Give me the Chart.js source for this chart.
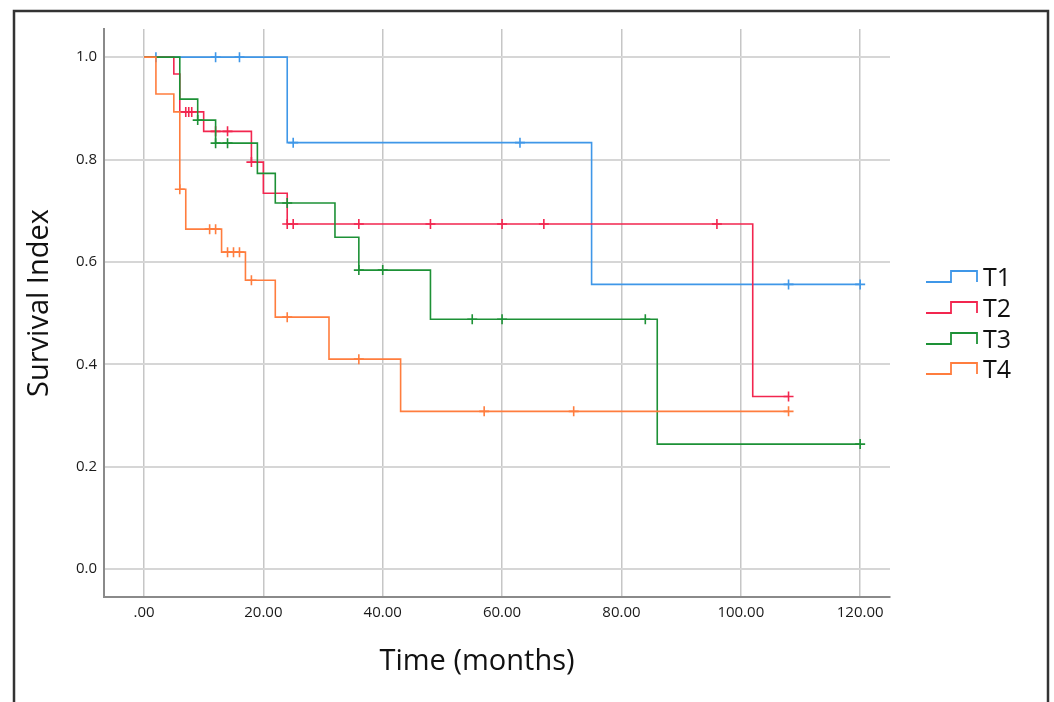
<!DOCTYPE html>
<html>
<head>
<meta charset="utf-8">
<script src="https://cdn.jsdelivr.net/npm/chart.js@4/dist/chart.umd.min.js"></script>
<style>
  html, body { margin: 0; padding: 0; background: #fff; }
  #wrap { position: relative; width: 1054px; height: 702px; }
</style>
</head>
<body>
<div id="wrap"><canvas id="km" width="1054" height="702"></canvas></div>
<script>
// Kaplan-Meier steps (time in months, survival index)
const groupNames = ["T1", "T2", "T3", "T4"];
const groupColors = ["#3f97e8", "#f2264f", "#1d9136", "#ff7d3e"];

const t1Times = [0, 24, 75, 120];
const t1Surv  = [1.0, 0.833, 0.556, 0.556];
const t1CensorTimes = [2, 12, 16, 25, 63, 108, 120];
const t1CensorSurv  = [1.0, 1.0, 1.0, 0.833, 0.833, 0.556, 0.556];

const t2Times = [0, 5, 6, 10, 18, 20, 24, 102, 108];
const t2Surv  = [1.0, 0.967, 0.893, 0.855, 0.795, 0.734, 0.674, 0.337, 0.337];
const t2CensorTimes = [7, 7.5, 8, 12, 14, 18, 24, 25, 36, 48, 60, 67, 96, 108];
const t2CensorSurv  = [0.893, 0.893, 0.893, 0.855, 0.855, 0.795, 0.674, 0.674, 0.674, 0.674, 0.674, 0.674, 0.674, 0.337];

const t3Times = [0, 6, 9, 12, 19, 22, 32, 36, 48, 86, 120];
const t3Surv  = [1.0, 0.918, 0.877, 0.832, 0.773, 0.715, 0.648, 0.584, 0.488, 0.244, 0.244];
const t3CensorTimes = [9, 12, 14, 24, 36, 40, 55, 60, 84, 120];
const t3CensorSurv  = [0.877, 0.832, 0.832, 0.715, 0.584, 0.584, 0.488, 0.488, 0.488, 0.244];

const t4Times = [0, 2, 5, 6, 7, 13, 17, 22, 31, 43, 108];
const t4Surv  = [1.0, 0.928, 0.893, 0.742, 0.664, 0.619, 0.564, 0.492, 0.410, 0.308, 0.308];
const t4CensorTimes = [6, 11, 12, 14, 15, 16, 18, 24, 36, 57, 72, 108];
const t4CensorSurv  = [0.742, 0.664, 0.664, 0.619, 0.619, 0.619, 0.564, 0.492, 0.410, 0.308, 0.308, 0.308];

const xTickValues = [0, 20, 40, 60, 80, 100, 120];
const xTickLabels = [".00", "20.00", "40.00", "60.00", "80.00", "100.00", "120.00"];
const yTickValues = [0, 0.2, 0.4, 0.6, 0.8, 1.0];
const yTickLabels = ["0.0", "0.2", "0.4", "0.6", "0.8", "1.0"];

const xTitle = "Time (months)";
const yTitle = "Survival Index";

const FONT = "'Open Sans', 'Liberation Sans', sans-serif";

function pts(xs, ys) {
  return xs.map((x, i) => ({ x: x, y: ys[i] }));
}

const steps = [[t1Times, t1Surv], [t2Times, t2Surv], [t3Times, t3Surv], [t4Times, t4Surv]];
const censors = [[t1CensorTimes, t1CensorSurv], [t2CensorTimes, t2CensorSurv],
                 [t3CensorTimes, t3CensorSurv], [t4CensorTimes, t4CensorSurv]];

let datasets = [];
// draw order: orange, green, red, blue (blue ends up on top)
[3, 2, 1, 0].forEach(g => {
  datasets.push({
    label: groupNames[g],
    data: pts(steps[g][0], steps[g][1]),
    borderColor: groupColors[g],
    borderWidth: 1.6,
    stepped: true,
    pointRadius: 0,
    fill: false
  });
  datasets.push({
    label: groupNames[g] + " censored",
    data: pts(censors[g][0], censors[g][1]),
    showLine: false,
    pointStyle: "cross",
    pointRadius: 5,
    pointBorderWidth: 1.6,
    borderColor: groupColors[g],
    backgroundColor: groupColors[g]
  });
});

// outer frame round the figure
const framePlugin = {
  id: "frame",
  beforeDraw(chart) {
    const ctx = chart.ctx;
    ctx.save();
    ctx.fillStyle = "#fff";
    ctx.fillRect(0, 0, chart.width, chart.height);
    ctx.strokeStyle = "#333";
    ctx.lineWidth = 2.5;
    ctx.strokeRect(14, 11, 1034, 760);
    ctx.restore();
  }
};

// axis titles sit off-centre in the original, so draw them by hand
const titlesPlugin = {
  id: "titles",
  afterDraw(chart) {
    const ctx = chart.ctx;
    ctx.save();
    ctx.fillStyle = "#111";
    ctx.font = "29px " + FONT;
    ctx.textAlign = "center";
    ctx.textBaseline = "middle";
    ctx.fillText(xTitle, 477, 662);
    ctx.translate(40, 303);
    ctx.rotate(-Math.PI / 2);
    ctx.fillText(yTitle, 0, 0);
    ctx.restore();
  }
};

// legend with small step icons, like SPSS draws it
const stepLegend = {
  id: "stepLegend",
  afterDraw(chart) {
    const ctx = chart.ctx;
    const x0 = 926, rowY = [278, 309, 340, 370];
    ctx.save();
    groupNames.forEach((name, i) => {
      const y = rowY[i];
      ctx.strokeStyle = groupColors[i];
      ctx.lineWidth = 1.8;
      ctx.beginPath();
      ctx.moveTo(x0, y + 4);
      ctx.lineTo(x0 + 25, y + 4);
      ctx.lineTo(x0 + 25, y - 7);
      ctx.lineTo(x0 + 51, y - 7);
      ctx.lineTo(x0 + 51, y + 4);
      ctx.stroke();
      ctx.fillStyle = "#111";
      ctx.font = "25px " + FONT;
      ctx.textBaseline = "middle";
      ctx.textAlign = "left";
      ctx.fillText(name, x0 + 57, y + 1);
    });
    ctx.restore();
  }
};

new Chart(document.getElementById("km"), {
  type: "line",
  data: { datasets: datasets },
  plugins: [framePlugin, titlesPlugin, stepLegend],
  options: {
    responsive: false,
    animation: false,
    layout: { padding: { top: 29, right: 164, left: 0, bottom: 0 } },
    plugins: { legend: { display: false }, tooltip: { enabled: false } },
    scales: {
      x: {
        type: "linear",
        min: -6.7,
        max: 125,
        afterBuildTicks: s => { s.ticks = xTickValues.map(v => ({ value: v })); },
        afterFit: s => { s.height = 105; },
        ticks: {
          padding: 7,
          color: "#1a1a1a",
          font: { family: FONT, size: 15 },
          maxRotation: 0,
          callback: (v) => xTickLabels[xTickValues.indexOf(v)]
        },
        grid: { color: "#c6c6c6", lineWidth: 1.5, drawTicks: false },
        border: { display: true, color: "#8a8a8a", width: 2 }
      },
      y: {
        type: "linear",
        min: -0.0547,
        max: 1.055,
        afterBuildTicks: s => { s.ticks = yTickValues.map(v => ({ value: v })); },
        afterFit: s => { s.width = 104; },
        ticks: {
          padding: 7,
          color: "#1a1a1a",
          font: { family: FONT, size: 15 },
          callback: (v) => yTickLabels[yTickValues.findIndex(t => Math.abs(t - v) < 1e-6)]
        },
        grid: { color: "#d6d6d6", lineWidth: 2, drawTicks: false },
        border: { display: true, color: "#8a8a8a", width: 2 }
      }
    }
  }
});
</script>
</body>
</html>
